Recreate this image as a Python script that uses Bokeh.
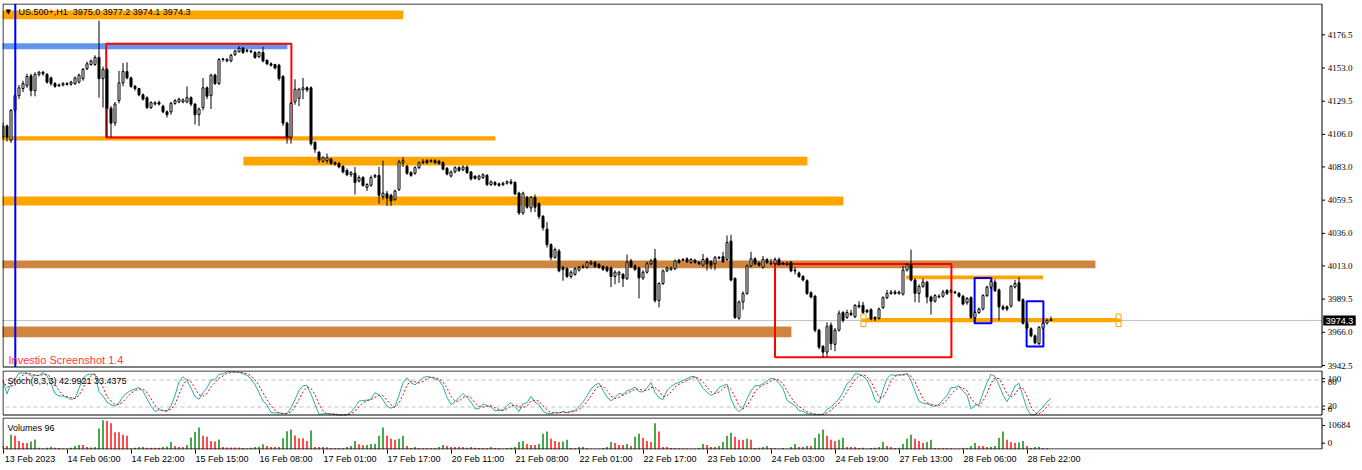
import numpy as np
from bokeh.plotting import figure
from bokeh.models import (ColumnDataSource, Range1d, FixedTicker, LinearAxis,
                          Span, Label, LabelSet)
from bokeh.layouts import column
from bokeh.embed import file_html
from bokeh.resources import INLINE

# ---------------- data (US.500+, H1) ----------------
opens = [
 4104, 4112, 4102, 4123, 4133.5, 4138.5, 4140.5, 4147.5, 4137, 4148.5,
 4150, 4148.5, 4146, 4142, 4140.5, 4141, 4142, 4141.5, 4142, 4143,
 4145.5, 4152.5, 4155.5, 4155.5, 4160.5, 4145.5, 4152, 4124.5, 4114, 4130,
 4142.5, 4150.5, 4146, 4140, 4138.5, 4134, 4132, 4125, 4127.5, 4128.5,
 4126, 4122, 4122, 4128, 4129, 4129, 4129, 4132, 4127.5, 4120,
 4125, 4139, 4133.5, 4148, 4142, 4159, 4158, 4158, 4162.5, 4164.5,
 4167, 4165.5, 4165, 4164, 4161, 4164, 4158.5, 4156, 4155.5, 4155,
 4147, 4114, 4104, 4129, 4131.5, 4137.5, 4139, 4139, 4100.5, 4093.5,
 4087, 4087.5, 4088.5, 4086, 4085.5, 4083.5, 4080.5, 4077.5, 4078.5, 4073,
 4075.5, 4068.5, 4070, 4076, 4077, 4062, 4064, 4063, 4060, 4067,
 4086, 4083.5, 4079, 4078.5, 4082.5, 4086, 4087.5, 4087, 4087.5, 4087,
 4086, 4082, 4076.5, 4079.5, 4082.5, 4081, 4083, 4079.5, 4076.5, 4074.5,
 4075.5, 4077, 4070.5, 4072, 4071, 4070.5, 4071.5, 4072.5, 4072, 4064.5,
 4050.5, 4061.5, 4054, 4061.5, 4057, 4048, 4039, 4028, 4019, 4023.5,
 4012, 4011, 4005.5, 4007, 4010, 4012, 4012, 4014.5, 4015.5, 4014,
 4012.5, 4012, 4011.5, 4005.5, 4007, 4007, 4004, 4016.5, 4013, 4011.5,
 4004.5, 4008.5, 4014.5, 4018, 3988.5, 4000.5, 4009.5, 4010.5, 4011, 4017,
 4017, 4018, 4015.5, 4017, 4015.5, 4013.5, 4018, 4016, 4014.5, 4018.5,
 4019.5, 4017.5, 4030.5, 4004, 3976, 3987.5, 3993.5, 4013, 4018, 4015,
 4012, 4017.5, 4015, 4014.5, 4017.5, 4015, 4014, 4015.5, 4010, 4008,
 4005.5, 4002.5, 3994, 3991.5, 3967.5, 3956, 3952, 3971, 3957.5, 3967.5,
 3980, 3976.5, 3979.5, 3977, 3984, 3985, 3981.5, 3982, 3976.5, 3976,
 3983.5, 3990.5, 3993.5, 3994.5, 3993.5, 3993, 4010, 4014, 4003, 3993.5,
 3998.5, 4001.5, 3991, 3988, 3991, 3991.5, 3995.5, 3994.5, 3994.5, 3993.5,
 3991.5, 3987, 3990.5, 3976.5, 3980, 3982.5, 3992, 3998, 4001.5, 3996,
 3984, 3984, 3984.5, 3998, 4001, 3989, 3972.5, 3968.5, 3963.5, 3958,
 3969, 3972.5, 3975.0]
highs = [
 4114.5, 4113, 4124, 4135, 4141, 4144, 4149, 4149, 4150, 4151,
 4151, 4149.5, 4147, 4143, 4142, 4143, 4143, 4144, 4147, 4149,
 4153, 4157.5, 4159, 4162, 4186.5, 4154, 4153, 4126, 4129, 4151,
 4156.5, 4157, 4147, 4141, 4139, 4135, 4133, 4129.5, 4129.5, 4130,
 4127, 4123, 4129, 4131, 4132, 4131.5, 4140, 4133, 4128, 4125,
 4146, 4140, 4149, 4149, 4160, 4160, 4160, 4163, 4166, 4168.5,
 4168, 4166.5, 4166, 4165, 4165, 4168, 4159, 4157, 4156, 4156,
 4148, 4115, 4129, 4145, 4139, 4146, 4140, 4140, 4101, 4094,
 4090.5, 4092.5, 4089.5, 4087, 4086.5, 4084, 4082, 4080, 4083, 4077,
 4076.5, 4071.5, 4077, 4078, 4083, 4087.5, 4066, 4064, 4067, 4088,
 4090, 4084.5, 4080, 4083.5, 4087, 4088.5, 4088.5, 4088.5, 4088.5, 4088,
 4087, 4083, 4080.5, 4083.5, 4083.5, 4084, 4084, 4080, 4077, 4077.5,
 4078.5, 4078, 4073.5, 4073, 4072, 4072.5, 4073.5, 4074.5, 4073, 4065.5,
 4065.5, 4062.5, 4062.5, 4063.5, 4058, 4049, 4044, 4029, 4026, 4025,
 4013, 4012, 4010, 4012, 4013, 4014, 4016.5, 4017, 4016.5, 4015,
 4013.5, 4013, 4012.5, 4010, 4009.5, 4008, 4021, 4018, 4014, 4012.5,
 4010, 4016, 4018, 4025, 4001.5, 4010.5, 4012.5, 4012.5, 4017.5, 4018,
 4018.5, 4019, 4018.5, 4018, 4016.5, 4021.5, 4019, 4017, 4020, 4020,
 4023, 4034.5, 4035, 4005, 3988.5, 3995, 4014, 4023, 4019, 4016,
 4020, 4018.5, 4018, 4019, 4019, 4016, 4016, 4016.5, 4012, 4009,
 4006.5, 4003.5, 3995, 3992.5, 3968.5, 3957, 3973, 3973, 3969, 3981.5,
 3981, 3982, 3982, 3986, 3988, 3987.5, 3982.5, 3983, 3977.5, 3983.5,
 3991.5, 3996, 3996, 3996, 3995.5, 4013, 4015, 4024.5, 4004, 4000,
 4004, 4002.5, 3992, 3993, 3993, 3996, 3996.5, 3996.5, 3995.5, 3994.5,
 3992.5, 3991, 3991.5, 3981, 3983.5, 3993, 3999, 4003.5, 4003.5, 3997,
 3985.5, 3985, 3999.5, 4003, 4005, 3990, 3973.5, 3969.5, 3964.5, 3970.5,
 3973.5, 3975.5, 3977.2]
lows = [
 4102.5, 4101, 4100, 4121, 4131, 4136, 4139, 4133, 4133, 4147,
 4147.5, 4142, 4140.5, 4139, 4139.5, 4140, 4140.5, 4140.5, 4141, 4142,
 4144, 4151.5, 4154.5, 4154.5, 4132, 4125, 4104, 4104, 4112, 4128,
 4140, 4145, 4139, 4137, 4133, 4130, 4124, 4124, 4126.5, 4126.5,
 4121, 4118, 4120, 4127, 4128, 4128, 4128, 4126, 4113, 4112,
 4123, 4131, 4124, 4141, 4141, 4157.5, 4157, 4157, 4161.5, 4164,
 4163, 4164, 4163.5, 4159.5, 4160, 4157, 4155, 4154, 4152, 4144,
 4112, 4099.5, 4099.5, 4127, 4126, 4131, 4136, 4098, 4093, 4086,
 4086, 4085.5, 4084.5, 4084, 4082, 4078.5, 4076.5, 4076, 4063.5, 4072,
 4069, 4066, 4069, 4075, 4057, 4060, 4055.5, 4055.5, 4059, 4066,
 4083, 4077.5, 4076, 4077.5, 4081.5, 4085, 4085, 4086, 4085, 4084.5,
 4080.5, 4077, 4075.5, 4078.5, 4079.5, 4080, 4078, 4073.5, 4074, 4073.5,
 4074.5, 4069.5, 4069.5, 4069.5, 4069, 4069.5, 4070.5, 4070.5, 4063, 4049,
 4049, 4053.5, 4051, 4051, 4046, 4038, 4026, 4017, 4018, 4008.5,
 4002.5, 4004.5, 4004, 4006, 4009, 4011, 4011, 4013.5, 4011.5, 4011,
 4009.5, 4008.5, 3998, 4000, 4001, 3998, 4003, 4011.5, 4009.5, 3990,
 4003, 4007.5, 4013.5, 3987, 3983.7, 3999.5, 4008.5, 4009.5, 4010, 4014.5,
 4016.5, 4015, 4014.5, 4014.5, 4013.5, 4012.5, 4009.7, 4010.5, 4010, 4017.5,
 4015, 4016.5, 4002, 3975.5, 3974.8, 3982, 3992.5, 4012, 4013.5, 4012.5,
 4011, 4014.5, 4013.5, 4013.5, 4013, 4013.5, 4013, 4008.5, 4007, 4004.5,
 4002, 3992.5, 3990, 3966, 3954, 3948, 3949, 3953.5, 3952.6, 3966.5,
 3973, 3975.5, 3977.5, 3976, 3983, 3979, 3979.5, 3974.5, 3974, 3975,
 3982.5, 3989.5, 3992.5, 3992.5, 3992.5, 3992, 4009, 4002, 3987.3, 3987,
 3997.5, 3986.5, 3978.5, 3987, 3990, 3990.5, 3992.5, 3994, 3993, 3990.5,
 3985, 3985.5, 3975.5, 3973, 3979, 3981.5, 3991, 3996.5, 3994.5, 3974.3,
 3981.5, 3981, 3983.5, 3997, 3987.5, 3971.5, 3968, 3962.5, 3957.5, 3957,
 3968, 3971.5, 3974.1]
closes = [
 4112, 4104, 4123, 4133.5, 4139, 4142, 4147, 4137, 4148.5, 4150,
 4149, 4143, 4142, 4140, 4141, 4142, 4141.5, 4143, 4146, 4148,
 4152, 4156, 4158, 4160.5, 4145.5, 4152, 4124.5, 4114, 4127.5, 4142.5,
 4150.5, 4146, 4140, 4138.5, 4134, 4131, 4125, 4128.5, 4128.5, 4127.5,
 4122, 4120, 4128, 4130, 4131, 4130.5, 4132, 4127.5, 4120, 4124,
 4139, 4133, 4148, 4142, 4159, 4159.5, 4159, 4162, 4165, 4167,
 4164, 4165, 4164.5, 4160.5, 4164, 4158, 4156, 4155, 4153, 4145.5,
 4114, 4104, 4128, 4138, 4138, 4139, 4137.5, 4099.5, 4095.5, 4088,
 4089.5, 4089.5, 4085.5, 4085, 4083, 4079.5, 4077.5, 4079, 4072, 4075.5,
 4070, 4070.5, 4075.5, 4077, 4063, 4064.5, 4061, 4059, 4066, 4086.5,
 4087.5, 4078.5, 4077, 4082.5, 4086, 4087, 4086, 4087.5, 4086, 4085.5,
 4081.5, 4078, 4079.5, 4082.5, 4080.5, 4083, 4079, 4074.5, 4075, 4076.5,
 4077.5, 4070.5, 4072.5, 4070.5, 4070, 4071.5, 4072.5, 4071.5, 4064, 4050.5,
 4064.5, 4054.5, 4061.5, 4054.5, 4048, 4040, 4028, 4019, 4024.5, 4009.5,
 4010.5, 4005.5, 4008.5, 4011, 4012, 4012.5, 4015.5, 4015.5, 4012.5, 4012,
 4010.5, 4009.5, 4005.5, 4008.5, 4008.5, 4004, 4015.5, 4012.5, 4010.5, 4004.5,
 4008.5, 4014.5, 4016.5, 3988.5, 4000.5, 4009.5, 4011.5, 4011.5, 4016.5, 4015.5,
 4017.5, 4016, 4017.5, 4015.5, 4014.5, 4017.5, 4014.5, 4013.5, 4019, 4019,
 4016, 4029.5, 4003, 3976.5, 3987.5, 3993.5, 4013, 4018, 4014.5, 4013.5,
 4017.5, 4015.5, 4014.5, 4017.5, 4014, 4014.5, 4015, 4009.5, 4009.5, 4005.5,
 4003, 3993.5, 3991, 3967.5, 3955.5, 3952, 3970, 3958, 3967.5, 3979.5,
 3974.5, 3980, 3978.5, 3985, 3985, 3980, 3980.5, 3975.5, 3975.5, 3982.5,
 3990.5, 3993.5, 3994.5, 3993.5, 3994.5, 4010, 4014, 4003, 3993.5, 3998.5,
 4001.5, 3991, 3988, 3992, 3991.5, 3994.5, 3993.5, 3995.5, 3994, 3991.5,
 3986, 3990, 3976.5, 3980, 3982.5, 3992, 3998, 4002, 3995.5, 3984,
 3982.5, 3982.5, 3998.5, 4000.5, 3988.5, 3972.5, 3969, 3963.5, 3958.5, 3969.5,
 3972.5, 3974.5, 3974.3]
volumes = [
 1257, 1240, 5405, 5028, 3142, 2388, 2370, 2891, 3645, 628,
 377, 640, 1006, 628, 503, 377, 251, 628, 1257, 1634,
 1620, 880, 754, 880, 7668, 10684, 10433, 9553, 6285, 6270,
 5405, 5028, 377, 628, 880, 1006, 628, 620, 610, 600,
 880, 1131, 2765, 1257, 880, 870, 1634, 4400, 6411, 8045,
 5028, 4651, 3142, 2891, 3645, 880, 754, 750, 745, 740,
 503, 377, 628, 880, 1006, 1885, 1257, 880, 875, 870,
 4148, 6662, 7291, 5154, 4148, 4140, 3142, 6913, 880, 875,
 870, 865, 503, 500, 495, 490, 880, 1257, 3142, 1885,
 1508, 1634, 2011, 2137, 5028, 8045, 5028, 3897, 3520, 3897,
 5028, 1257, 503, 880, 503, 500, 495, 490, 485, 880,
 1634, 1257, 880, 875, 1006, 880, 628, 880, 628, 503,
 500, 495, 880, 503, 500, 251, 503, 628, 880, 2765,
 3142, 2011, 1634, 1620, 2011, 5782, 6536, 3897, 3142, 2765,
 2891, 3520, 503, 500, 880, 1006, 503, 251, 250, 245,
 503, 880, 2765, 2388, 1634, 1620, 2011, 1257, 4651, 5782,
 4274, 3142, 2765, 9553, 6536, 880, 875, 503, 500, 495,
 377, 370, 251, 245, 503, 2011, 1634, 880, 875, 1257,
 2765, 5028, 6159, 4651, 3520, 3510, 3897, 3520, 503, 628,
 880, 1257, 503, 500, 251, 503, 251, 880, 2011, 880,
 875, 1257, 1250, 4274, 5782, 7291, 5028, 3520, 3142, 3520,
 4274, 880, 875, 870, 503, 628, 251, 503, 628, 880,
 2765, 1257, 880, 503, 628, 2011, 3897, 5405, 3897, 3142,
 2388, 2765, 3520, 503, 500, 495, 490, 485, 251, 245,
 503, 500, 1257, 2388, 1257, 1250, 880, 1006, 1257, 4274,
 6536, 3520, 2765, 2388, 2514, 3142, 1257, 503, 880, 1006,
 503, 500, 96]

price_ticks = [4176.5, 4153.0, 4129.5, 4106.0, 4083.0, 4059.5, 4036.0, 4013.0, 3989.5, 3966.0, 3942.5]
time_tick_bars = [0, 16, 32, 48, 64, 80, 96, 112, 128, 144, 160, 176, 192, 208, 224, 240, 256]
time_tick_labels = ["13 Feb 2023", "14 Feb 06:00", "14 Feb 22:00", "15 Feb 15:00", "16 Feb 08:00",
                    "17 Feb 01:00", "17 Feb 17:00", "20 Feb 11:00", "21 Feb 08:00", "22 Feb 01:00",
                    "22 Feb 17:00", "23 Feb 10:00", "24 Feb 03:00", "24 Feb 19:00", "27 Feb 13:00",
                    "28 Feb 06:00", "28 Feb 22:00"]

# chart objects (bar index / price)
band_left = [-5, -5, -5, 60.1, -5, -5, -5, 225.75, 214.5]
band_right = [100.1, 71.1, 123.1, 201.1, 210.1, 273.1, 197.1, 260.0, 279.6]
band_top = [4193.7, 4170.6, 4104.7, 4090.3, 4062.1, 4016.8, 3970.1, 4006.2, 3976.2]
band_bottom = [4187.5, 4166.3, 4101.7, 4084.0, 4055.7, 4011.3, 3962.5, 4003.5, 3973.1]
band_color = ["#FFA500", "#6495ED", "#FFA500", "#FFA500", "#FFA500", "#CD853F", "#CD853F", "#FFA500", "#FFA500"]

box_left = [25.8, 193.0, 242.9, 255.9]
box_right = [72.1, 237.1, 247.1, 260.1]
box_top = [4170.1, 4014.4, 4004.5, 3988.0]
box_bottom = [4103.8, 3948.3, 3972.4, 3955.9]
box_color = ["#FF0000", "#FF0000", "#0000FF", "#0000FF"]

handle_x = [215.1, 215.1, 278.9, 278.9]
handle_y = [3977.1, 3971.9, 3977.1, 3971.9]

vline_bar = 3.07
last_price = 3974.3

# ---------------- derived ----------------
n = len(closes)
idx = list(range(n))
O = np.array(opens); H = np.array(highs); L = np.array(lows); C = np.array(closes)

# Stochastic (8,3,3)
kp, slow, dp = 8, 3, 3
num = np.zeros(n); den = np.zeros(n)
for i in range(n):
    lo = L[max(0, i - kp + 1):i + 1].min()
    hi = H[max(0, i - kp + 1):i + 1].max()
    num[i] = C[i] - lo
    den[i] = hi - lo
K = np.zeros(n)
for i in range(n):
    s1 = den[max(0, i - slow + 1):i + 1].sum()
    K[i] = 100.0 * num[max(0, i - slow + 1):i + 1].sum() / s1 if s1 else 100.0
D = np.array([K[max(0, i - dp + 1):i + 1].mean() for i in range(n)])

vol_colors = ["#008000" if (i == 0 or volumes[i] > volumes[i - 1]) else "#FF0000" for i in range(n)]

FONT = "Liberation Sans"
FS = "9px"
W = 1362
X0 = -0.125          # left edge of every pane, in bars (4 px per bar)
XR = 329.75          # right border of the panes, in bars
XEND = X0 + 1360 / 4


def base(p):
    p.grid.visible = False
    p.outline_line_color = None
    p.background_fill_color = "white"
    p.border_fill_color = "white"
    if "frame_align" in p.properties():
        p.frame_align = False


def right_scale(p, ticks, labels, top, bot):
    """pane border up to XR, tick marks and labels of the value scale to its right"""
    p.quad(left=[X0 + 0.125], right=[XR], top=[top], bottom=[bot],
           fill_alpha=0, line_color="black", line_width=1)
    p.segment(x0=[XR] * len(ticks), y0=ticks, x1=[XR + 0.75] * len(ticks), y1=ticks,
              line_color="black", line_width=1)
    s = ColumnDataSource(dict(x=[XR + 1.45] * len(ticks), y=ticks, text=labels))
    p.add_layout(LabelSet(x="x", y="y", text="text", source=s, text_align="left",
                          text_baseline="middle", text_font=FONT, text_font_size=FS,
                          text_color="black"))


# ---------------- main price pane ----------------
P_TOP, P_BOT = 4198.65, 3938.98
PX = 367 / (P_TOP - P_BOT)
main = figure(width=W, height=370, x_range=Range1d(X0, XEND), y_range=Range1d(P_BOT, P_TOP),
              output_backend="svg", toolbar_location=None, x_axis_location=None,
              y_axis_location=None, min_border_left=2, min_border_right=0,
              min_border_top=3, min_border_bottom=0)
base(main)

main.segment(x0=[X0 - 1], y0=[last_price], x1=[XR], y1=[last_price], line_color="#C0C0C0", line_width=1)
main.quad(left=band_left, right=band_right, top=band_top, bottom=band_bottom,
          fill_color=band_color, line_alpha=0)
main.quad(left=box_left, right=box_right, top=box_top, bottom=box_bottom,
          fill_alpha=0, line_color=box_color, line_width=2)

src = ColumnDataSource(dict(
    x=idx, high=highs, low=lows,
    top=[max(o, c) for o, c in zip(opens, closes)],
    bottom=[min(o, c) for o, c in zip(opens, closes)],
    fill=["white" if c > o else "black" for o, c in zip(opens, closes)],
))
main.segment(x0="x", y0="low", x1="x", y1="high", source=src, line_color="black", line_width=1)
main.vbar(x="x", width=0.5, top="top", bottom="bottom", source=src,
          fill_color="fill", line_color="black", line_width=1)
main.scatter(handle_x, handle_y, marker="square", size=5, fill_color="white",
             line_color="#FFA500", line_width=1)

pane_top = P_TOP - 0.5 / PX
pane_bot = P_BOT + 3.5 / PX
main.segment(x0=[vline_bar], y0=[pane_bot], x1=[vline_bar], y1=[pane_top],
             line_color="#0000FF", line_width=2)
right_scale(main, price_ticks, ["%.1f" % v for v in price_ticks], pane_top, pane_bot)
main.add_layout(Label(x=XR + 0.3, y=last_price, text="\u00a03974.3\u00a0", text_font=FONT,
                      text_font_size=FS, text_color="white", background_fill_color="black",
                      text_baseline="middle", text_align="left"))

main.add_layout(Label(x=3, y=359, x_units="screen", y_units="screen", text="\u25BC",
                      text_font="DejaVu Sans", text_font_size="7px", text_color="black",
                      text_baseline="middle"))
main.add_layout(Label(x=16, y=359, x_units="screen", y_units="screen",
                      text="US.500+,H1\u00a0 3975.0 3977.2 3974.1 3974.3",
                      text_font=FONT, text_font_size=FS, text_color="black",
                      text_baseline="middle"))
main.add_layout(Label(x=6, y=11, x_units="screen", y_units="screen",
                      text="Investio Screenshot 1.4", text_font=FONT, text_font_size="11px",
                      text_color="#FF3A3A", text_baseline="middle"))

# ---------------- stochastic pane ----------------
S_TOP, S_BOT = 101.1, -1.1
SPX = 46 / (S_TOP - S_BOT)
st = figure(width=W, height=46, x_range=Range1d(X0, XEND), y_range=Range1d(S_BOT, S_TOP),
            output_backend="svg", toolbar_location=None, x_axis_location=None,
            y_axis_location=None, min_border_left=2, min_border_right=0,
            min_border_top=0, min_border_bottom=0)
base(st)
for lv in (80, 20):
    st.segment(x0=[X0 - 1], y0=[lv], x1=[XR], y1=[lv], line_color="#C0C0C0",
               line_dash="4 3", line_width=1)
st.line(idx, list(K), line_color="#20B2AA", line_width=1)
st.line(idx, list(D), line_color="#FF0000", line_width=1, line_dash="2 2")
right_scale(st, [83, 76, 22, 15], ["100", "80", "20", "0"], S_TOP - 0.5 / SPX, S_BOT + 1.5 / SPX)
st.add_layout(Label(x=5, y=36, x_units="screen", y_units="screen",
                    text="Stoch(8,3,3) 42.9921 33.4375", text_font=FONT, text_font_size=FS,
                    text_color="black", text_baseline="middle"))

# ---------------- volume pane ----------------
V_TOP = 11690
VPX = 32 / V_TOP
vol = figure(width=W, height=54, x_range=Range1d(X0, XEND), y_range=Range1d(0, V_TOP),
             output_backend="svg", toolbar_location=None, x_axis_location="below",
             y_axis_location=None, min_border_left=2, min_border_right=0,
             min_border_top=1, min_border_bottom=21)
base(vol)
vol.vbar(x=idx, width=0.35, top=volumes, bottom=0, fill_color=vol_colors, line_alpha=0)
right_scale(vol, [8770, 2300], ["10684", "0"], V_TOP - 0.5 / VPX, 0.5 / VPX)
vol.add_layout(Label(x=5, y=22, x_units="screen", y_units="screen", text="Volumes 96",
                     text_font=FONT, text_font_size=FS, text_color="black",
                     text_baseline="middle"))

# time axis: tick marks at the bars, labels starting just right of each tick
xa = vol.xaxis[0]
xa.ticker = FixedTicker(ticks=time_tick_bars)
xa.major_label_overrides = {b: "" for b in time_tick_bars}
xa.major_label_text_font_size = "0px"
xa.major_label_standoff = 0
xa.major_tick_out = 4
xa.major_tick_in = 0
xa.minor_tick_out = 0
xa.minor_tick_in = 0
xa.axis_line_color = None

label_centres = [b + 6.75 for b in time_tick_bars]
xa2 = LinearAxis(ticker=FixedTicker(ticks=label_centres),
                 major_label_overrides={c: t for c, t in zip(label_centres, time_tick_labels)},
                 major_tick_out=0, major_tick_in=0, minor_tick_out=0, minor_tick_in=0,
                 axis_line_color=None, major_label_standoff=0,
                 major_label_text_font=FONT, major_label_text_font_size=FS,
                 major_label_text_color="black")
vol.add_layout(xa2, "below")

layout = column(main, st, vol, spacing=0)

open("out.html", "w").write(file_html(layout, INLINE))
